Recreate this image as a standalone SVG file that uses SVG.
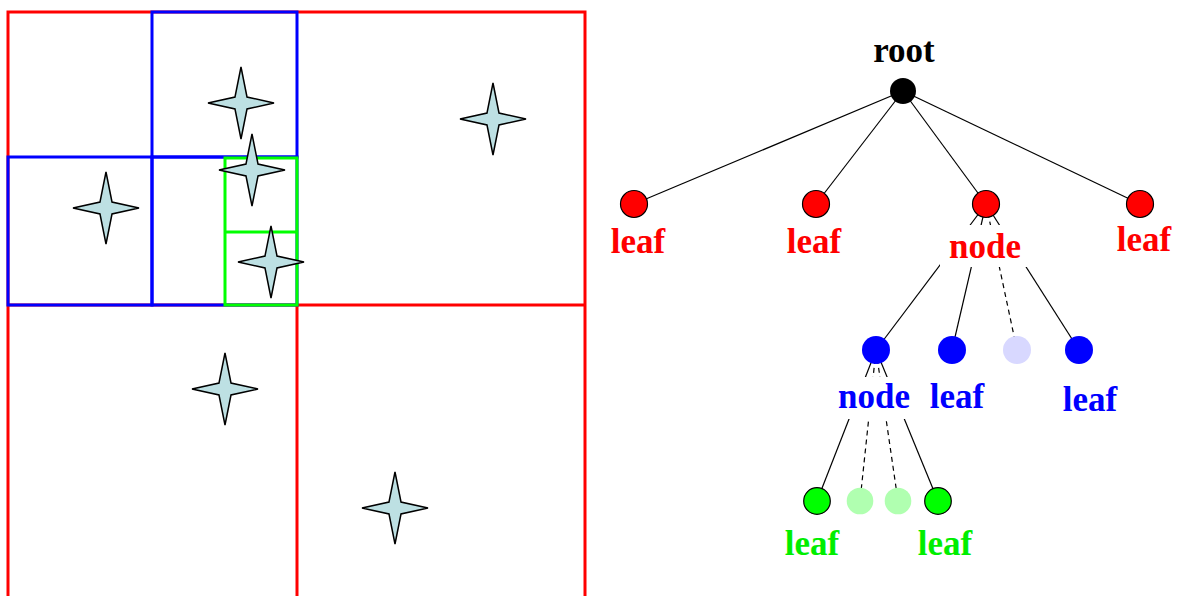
<svg xmlns="http://www.w3.org/2000/svg" width="1179" height="596" viewBox="0 0 1179 596">
<style>
.q{fill:none;stroke-width:3}
.qr{stroke:#ff0000}.qb{stroke:#0000ff}.qg{stroke:#00ff00}
.star{fill:#bde0e3;stroke:#000;stroke-width:1.5;stroke-linejoin:miter}
.e{stroke:#000;stroke-width:1.2;fill:none}
.d{stroke-dasharray:5,4}
.lbl{font-family:"Liberation Serif","Times New Roman",serif;font-weight:bold;font-size:35px;text-anchor:middle}
.bg{fill:#fff}
</style>
<defs>
<path id="st" d="M0,-36 L6,-6 L33,0 L6,6 L0,36 L-6,6 L-33,0 L-6,-6 Z"/>
</defs>
<rect width="1179" height="596" fill="#fff"/>
<g id="quadtree">
<rect class="q qr" x="8" y="12" width="577" height="600"/>
<line class="q qr" x1="8" y1="305" x2="585" y2="305"/>
<line class="q qr" x1="297" y1="305" x2="297" y2="600"/>
<rect class="q qb" x="152" y="12" width="145" height="145"/>
<rect class="q qb" x="8" y="157" width="144" height="148"/>
<rect class="q qb" x="152" y="157" width="145" height="148"/>
<rect class="q qg" x="225" y="158" width="72" height="147"/>
<line class="q qg" x1="225" y1="232" x2="297" y2="232"/>
</g>
<g id="stars">
<use href="#st" class="star" x="241" y="103"/>
<use href="#st" class="star" x="252" y="170"/>
<use href="#st" class="star" x="106" y="208"/>
<use href="#st" class="star" x="271" y="262"/>
<use href="#st" class="star" x="493" y="119"/>
<use href="#st" class="star" x="225" y="389"/>
<use href="#st" class="star" x="395" y="508"/>
</g>
<g id="connectors">
<line class="e" x1="903" y1="91" x2="634" y2="204"/>
<line class="e" x1="903" y1="91" x2="816" y2="204"/>
<line class="e" x1="903" y1="91" x2="986" y2="204"/>
<line class="e" x1="903" y1="91" x2="1140" y2="204"/>
<line class="e" x1="986" y1="204" x2="876" y2="350"/>
<line class="e" x1="986" y1="204" x2="952" y2="350"/>
<line class="e d" x1="986" y1="204" x2="1017" y2="350"/>
<line class="e" x1="986" y1="204" x2="1079" y2="350"/>
<line class="e" x1="876" y1="350" x2="817" y2="501"/>
<line class="e d" x1="876" y1="350" x2="860" y2="501"/>
<line class="e d" x1="876" y1="350" x2="898" y2="501"/>
<line class="e" x1="876" y1="350" x2="938" y2="501"/>
</g>
<g id="root">
<circle cx="903" cy="91" r="13" fill="#000"/>
<text class="lbl" x="904" y="62" fill="#000">root</text>
</g>
<g id="leaf-r1">
<circle cx="634" cy="204" r="13.5" fill="#ff0000" stroke="#000" stroke-width="1.2"/>
<text class="lbl" x="638" y="253" fill="#ff0000">leaf</text>
</g>
<g id="leaf-r2">
<circle cx="816" cy="204" r="13.5" fill="#ff0000" stroke="#000" stroke-width="1.2"/>
<text class="lbl" x="814" y="253" fill="#ff0000">leaf</text>
</g>
<g id="node-r">
<circle cx="986" cy="204" r="13.5" fill="#ff0000" stroke="#000" stroke-width="1.2"/>
<rect class="bg" x="940" y="225" width="90" height="42"/>
<text class="lbl" x="985" y="258" fill="#ff0000">node</text>
</g>
<g id="leaf-r4">
<circle cx="1140" cy="204" r="13.5" fill="#ff0000" stroke="#000" stroke-width="1.2"/>
<text class="lbl" x="1144" y="251" fill="#ff0000">leaf</text>
</g>
<g id="node-b">
<circle cx="876" cy="350" r="14" fill="#0000ff"/>
<rect class="bg" x="832" y="377" width="85" height="42"/>
<text class="lbl" x="874" y="408" fill="#0000ff">node</text>
</g>
<g id="leaf-b1">
<circle cx="952" cy="350" r="14" fill="#0000ff"/>
<text class="lbl" x="957" y="408" fill="#0000ff">leaf</text>
</g>
<g id="empty-b">
<circle cx="1017" cy="350" r="14" fill="#d8d8ff"/>
</g>
<g id="leaf-b2">
<circle cx="1079" cy="350" r="14" fill="#0000ff"/>
<text class="lbl" x="1090" y="411" fill="#0000ff">leaf</text>
</g>
<g id="leaf-g1">
<circle cx="817" cy="501" r="13.3" fill="#00ff00" stroke="#000" stroke-width="1.2"/>
<text class="lbl" x="812" y="555" fill="#00ee00">leaf</text>
</g>
<g id="empty-g1">
<circle cx="860" cy="501" r="13.3" fill="#b0ffb0"/>
</g>
<g id="empty-g2">
<circle cx="898" cy="501" r="13.3" fill="#b0ffb0"/>
</g>
<g id="leaf-g2">
<circle cx="938" cy="501" r="13.3" fill="#00ff00" stroke="#000" stroke-width="1.2"/>
<text class="lbl" x="945" y="555" fill="#00ee00">leaf</text>
</g>
</svg>
